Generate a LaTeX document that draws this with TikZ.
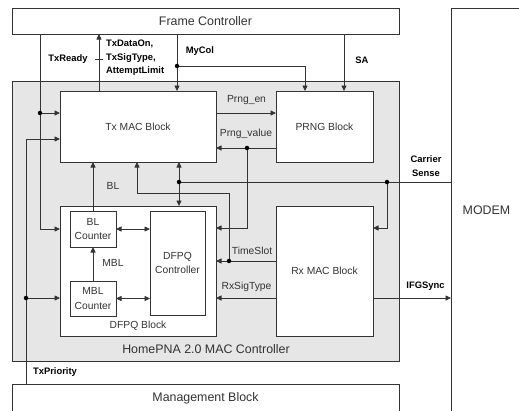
\documentclass[tikz,border=0pt]{standalone}
\usepackage{fontspec}
\setmainfont{Liberation Sans}
\usetikzlibrary{arrows.meta}
\definecolor{ln}{HTML}{333333}
\definecolor{bg}{HTML}{E6E6E6}
\begin{document}
\begin{tikzpicture}[x=1pt,y=-1pt,
  box/.style={draw=ln,line width=0.8pt,fill=white,inner sep=0pt,outer sep=0pt,text=ln,align=center},
  arr/.style={draw=ln,line width=0.8pt,-{Triangle[length=5.5pt,width=5pt]}},
  darr/.style={draw=ln,line width=0.8pt,{Triangle[length=5.5pt,width=5pt]}-{Triangle[length=5.5pt,width=5pt]}},
  wire/.style={draw=ln,line width=0.8pt},
  dot/.style={circle,fill=black,inner sep=0pt,minimum size=4.5pt},
  big/.style={font=\fontsize{12.4}{14}\selectfont},
  mid/.style={font=\fontsize{10.3}{14.5}\selectfont},
  lbl/.style={text=ln,font=\fontsize{10.3}{12}\selectfont,inner sep=0pt},
  blbl/.style={text=black,font=\fontsize{9.4}{13.5}\selectfont\bfseries,inner sep=0pt,align=left},
]
\useasboundingbox (0,0) rectangle (519,410);
\clip (0,0) rectangle (519,410);
\fill[white] (0,0) rectangle (519,410);

% big blocks
\node[box,big,minimum width=387pt,minimum height=26pt] (fc) at (205.5,21) {Frame Controller};
\node[box,fill=bg,minimum width=387pt,minimum height=280pt] (home) at (205.5,221) {};
\node[big,text=ln,inner sep=0pt] (homelbl) at (206,349) {HomePNA 2.0 MAC Controller};
\node[box,big,minimum width=387pt,minimum height=28pt] (mgmt) at (205.5,398) {Management Block};
\node[box,big,minimum width=71pt,minimum height=404pt] (modem) at (486.5,210) {MODEM};

% inner blocks
\node[box,mid,minimum width=156pt,minimum height=71pt] (tx) at (138,126.5) {Tx MAC Block};
\node[box,mid,minimum width=97pt,minimum height=71pt] (prng) at (324.5,126.5) {PRNG Block};
\node[box,minimum width=156pt,minimum height=130pt] (dfpqb) at (138,271) {};
\node[lbl] (dfpqlbl) at (138,326) {DFPQ Block};
\node[box,mid,minimum width=46pt,minimum height=36pt] (bl) at (93,229) {BL\\Counter};
\node[box,mid,minimum width=46pt,minimum height=35pt] (mbl) at (93,298.5) {MBL\\Counter};
\node[box,mid,minimum width=55pt,minimum height=104pt] (ctrl) at (177.5,263) {DFPQ\\Controller};
\node[box,mid,minimum width=97pt,minimum height=130pt] (rx) at (324.5,271) {Rx MAC Block};

% coordinates
\coordinate (cTR) at (40,113);
\coordinate (cTD) at (99,59);
\coordinate (cMC) at (177,66);
\coordinate (cMC2) at (305,66);
\coordinate (cSA) at (344,61);
\coordinate (cTP) at (26,139);
\coordinate (cTP2) at (26,298);
\coordinate (cPE) at (246,113);
\coordinate (cPV) at (247,148);
\coordinate (cCS) at (179,182);
\coordinate (cCS2) at (387,182);
\coordinate (cCS3) at (387,228);
\coordinate (cTS) at (229,261);
\coordinate (cTS2) at (137,193);
\coordinate (cRS) at (246,298);

% TxReady
\draw[arr] (cTR |- fc.south) -- (cTR |- bl.center) -- (bl.center -| dfpqb.west);
\draw[arr] (cTR) -- (cTR -| tx.west);
\node[dot] at (cTR) {};
% TxDataOn
\draw[arr] (cTD |- tx.north) -- (cTD |- fc.south);
\draw[wire] ([xshift=-4pt]cTD) -- ([xshift=4pt]cTD);
% MyCol
\draw[arr] (cMC |- fc.south) -- (cMC |- tx.north);
\draw[arr] (cMC) -- (cMC2) -- (cMC2 |- prng.north);
\node[dot] at (cMC) {};
% SA
\draw[arr] (cSA |- fc.south) -- (cSA |- prng.north);
% TxPriority
\draw[arr] (cTP |- mgmt.north) -- (cTP) -- (cTP -| tx.west);
\draw[arr] (cTP2) -- (cTP2 -| dfpqb.west);
\node[dot] at (cTP2) {};
% Prng_en / Prng_value
\draw[arr] (cPE -| tx.east) -- (cPE -| prng.west);
\draw[arr] (cPV -| prng.west) -- (cPV -| tx.east);
\draw[arr] (cPV) -- (cPV |- cCS3) -- (cCS3 -| dfpqb.east);
\node[dot] at (cPV) {};
% Carrier sense
\draw[darr] (cCS |- tx.south) -- (cCS |- dfpqb.north);
\draw[wire] (cCS -| modem.west) -- (cCS);
\draw[arr] (cCS2) -- (cCS3) -- (cCS3 -| rx.east);
\node[dot] at (cCS) {};
\node[dot] at (cCS2) {};
% TimeSlot
\draw[arr] (cTS -| rx.west) -- (cTS -| dfpqb.east);
\draw[arr] (cTS) -- (cTS |- cTS2) -- (cTS2) -- (cTS2 |- tx.south);
\node[dot] at (cTS) {};
% RxSigType, IFGSync
\draw[arr] (cRS -| rx.west) -- (cRS -| dfpqb.east);
\draw[arr] (cRS -| rx.east) -- (cRS -| modem.west);
% BL, MBL
\draw[arr] (bl.north) -- (bl.north |- tx.south);
\draw[arr] (mbl.north) -- (bl.south);
\draw[darr] (bl.east) -- (bl.east -| ctrl.west);
\draw[darr] (mbl.east) -- (mbl.east -| ctrl.west);

% labels
\node[blbl] (lTR) at (68,59) {TxReady};
\node[blbl,anchor=west] (lTD) at (106,58) {TxDataOn,\\TxSigType,\\AttemptLimit};
\node[blbl] (lMC) at (200,51) {MyCol};
\node[blbl] (lSA) at (362,60) {SA};
\node[blbl] (lTP) at (55,372) {TxPriority};
\node[blbl,align=center] (lCS) at (426,166) {Carrier\\Sense};
\node[blbl] (lIFG) at (425.5,286) {IFGSync};
\node[lbl] (lPE) at (246.5,100) {Prng\_en};
\node[lbl] (lPV) at (246,134) {Prng\_value};
\node[lbl] (lBL) at (113,186) {BL};
\node[lbl] (lMBL) at (113,263) {MBL};
\node[lbl] (lTS) at (252,251) {TimeSlot};
\node[lbl] (lRS) at (246.5,287) {RxSigType};
\end{tikzpicture}
\end{document}
